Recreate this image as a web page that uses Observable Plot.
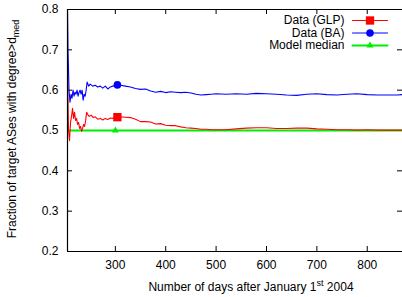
<!DOCTYPE html>
<html><head><meta charset="utf-8">
<script src="https://cdn.jsdelivr.net/npm/d3@7"></script>
<script src="https://cdn.jsdelivr.net/npm/@observablehq/plot@0.6"></script>
<style>html,body{margin:0;padding:0;background:#fff;overflow:hidden} svg{display:block}</style>
</head><body><div id="chart"></div>
<script>
// ---- data ----
const baDays = [205,206,208,210,212,214,216,218,220,222,224,226,228,230,232,234,236,238,240,242,244,247,250,255,260,265,270,275,280,285,290,295,300,305,310,320,330,340,350,360,370,380,390,400,410,420,430,440,450,460,470,480,490,500,520,540,560,580,600,620,640,660,680,700,720,740,760,780,800,820,840,860,870];
const baValues = [0.80,0.70,0.60,0.57,0.59,0.58,0.60,0.585,0.595,0.59,0.60,0.585,0.595,0.60,0.59,0.60,0.575,0.59,0.585,0.60,0.62,0.61,0.615,0.61,0.612,0.608,0.61,0.605,0.61,0.603,0.608,0.61,0.612,0.613,0.612,0.61,0.608,0.604,0.602,0.603,0.598,0.595,0.597,0.594,0.596,0.595,0.594,0.595,0.593,0.590,0.588,0.589,0.590,0.591,0.590,0.591,0.590,0.592,0.591,0.590,0.588,0.587,0.590,0.591,0.589,0.588,0.590,0.591,0.589,0.588,0.588,0.588,0.589];
const glpDays = [205,207,209,211,213,215,217,219,221,223,225,227,229,231,233,235,237,239,241,243,245,248,252,256,260,265,270,275,280,285,290,295,300,305,310,320,330,340,350,360,370,380,390,400,410,420,430,440,450,460,470,480,490,500,520,540,560,580,600,620,640,660,680,700,720,740,760,780,800,820,840,860,870];
const glpValues = [0.66,0.50,0.475,0.52,0.535,0.555,0.53,0.545,0.525,0.53,0.515,0.52,0.505,0.51,0.498,0.505,0.515,0.51,0.525,0.545,0.54,0.535,0.538,0.532,0.534,0.528,0.53,0.526,0.53,0.527,0.531,0.53,0.533,0.533,0.534,0.533,0.532,0.528,0.522,0.522,0.521,0.516,0.517,0.513,0.512,0.512,0.509,0.507,0.506,0.505,0.503,0.503,0.502,0.502,0.502,0.504,0.506,0.507,0.507,0.505,0.505,0.506,0.506,0.504,0.503,0.502,0.502,0.501,0.502,0.501,0.501,0.501,0.501];
const modelDays = [205, 870];
const modelValues = [0.5, 0.5];
const seriesNames = ["Data (GLP)", "Data (BA)", "Model median"];
const markerDays = [304, 304, 300];
const markerValues = [0.533, 0.613, 0.5];
const seriesColors = ["#ff0000", "#0000ff", "#00ee00"];
const seriesSymbols = ["square", "circle", "triangle"];
const xTicks = [300, 400, 500, 600, 700, 800];
const yTicks = [0.2, 0.3, 0.4, 0.5, 0.6, 0.7, 0.8];
const xDomain = [205, 870];
const yDomain = [0.2, 0.8];

// ---- layout ----
const W = 402, H = 297, mL = 67, mR = 0, mT = 9, mB = 46;
const plotW = W - mL - mR, plotH = H - mT - mB;
const toRows = (days, vals) => days.map((d, i) => ({day: d, v: vals[i]}));
const seriesRows = [toRows(glpDays, glpValues), toRows(baDays, baValues), toRows(modelDays, modelValues)];
const lineWidths = [1.1, 1.1, 2];
const symbolR = [4.7, 3.8, 2.6];
const lineShape = {draw(ctx, l) { ctx.moveTo(0, 0); ctx.lineTo(0, -l); }};

const marks = [
  Plot.axisX(xTicks, {tickSize: 0, tickPadding: 9, label: null, fill: "#000"}),
  Plot.axisY(yTicks, {tickSize: 0, tickPadding: 9, label: null, tickFormat: d3.format(".1f"), fill: "#000"}),
  Plot.tickX(xTicks, {x: d => d, insetTop: plotH - 5, stroke: "#000"}),
  Plot.tickX(xTicks, {x: d => d, insetBottom: plotH - 5, stroke: "#000"}),
  Plot.tickY(yTicks, {y: d => d, insetRight: plotW - 5, stroke: "#000"}),
  Plot.tickY(yTicks, {y: d => d, insetLeft: plotW - 5, stroke: "#000"})
];
// series lines (green first so data lines draw over)
[2, 0, 1].forEach(i => {
  marks.push(Plot.line(seriesRows[i], {x: "day", y: "v", stroke: seriesColors[i], strokeWidth: lineWidths[i], clip: true}));
});
seriesNames.forEach((s, i) => {
  marks.push(Plot.dot([{day: markerDays[i], v: markerValues[i]}], {x: "day", y: "v", symbol: seriesSymbols[i], r: symbolR[i], fill: seriesColors[i], stroke: "none"}));
});
// frame: left, bottom, top
marks.push(Plot.ruleX([xDomain[0]], {stroke: "#000", strokeWidth: 1.2}));
marks.push(Plot.ruleY(yDomain, {stroke: "#000", strokeWidth: 1.2}));
// legend
seriesNames.forEach((s, i) => {
  const dy = 11 + i * 12.5;
  marks.push(Plot.text([s], {text: d => d, frameAnchor: "top-right", dx: -58, dy, textAnchor: "end", lineAnchor: "middle", fill: "#000", fontSize: 12}));
  marks.push(Plot.vector([s], {frameAnchor: "top-right", dx: -32.5, dy, rotate: 90, length: 35, anchor: "middle", stroke: seriesColors[i], strokeWidth: lineWidths[i], shape: lineShape}));
  marks.push(Plot.dot([s], {frameAnchor: "top-right", dx: -32.5, dy, symbol: seriesSymbols[i], r: symbolR[i], fill: seriesColors[i], stroke: "none"}));
});

const chart = Plot.plot({
  width: W, height: H,
  marginLeft: mL, marginRight: mR, marginTop: mT, marginBottom: mB,
  style: {fontFamily: "'Liberation Sans', Arial, sans-serif", fontSize: "12px", background: "#fff", color: "#000"},
  x: {domain: xDomain},
  y: {domain: yDomain},
  marks
});

const svg = d3.select(chart);
const xl = svg.append("text").attr("x", 251).attr("y", 291).attr("text-anchor", "middle").attr("font-size", 12).attr("fill", "#000");
xl.append("tspan").text("Number of days after January 1");
xl.append("tspan").attr("dy", -5).attr("font-size", 9).text("st");
xl.append("tspan").attr("dy", 5).attr("font-size", 12).text(" 2004");
const yl = svg.append("text").attr("transform", "translate(16,129) rotate(-90)").attr("text-anchor", "middle").attr("font-size", 12).attr("fill", "#000");
yl.append("tspan").text("Fraction of target ASes with degree>d");
yl.append("tspan").attr("dy", 3).attr("font-size", 9).text("med");

document.getElementById("chart").appendChild(chart);
</script>
</body></html>
